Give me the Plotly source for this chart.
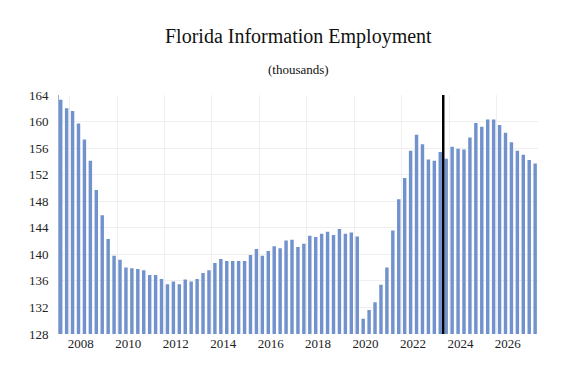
import plotly.graph_objects as go

# ---- data (quarterly, 2007Q3 .. 2027Q3) ----
start_year = 2007
start_quarter = 3
employment = [
    163.3, 162.0, 161.6, 159.7, 157.3, 154.1, 149.7, 145.9, 142.3, 139.8,
    139.2, 138.0, 137.9, 137.8, 137.6, 136.9, 136.9, 136.3, 135.5, 135.9,
    135.5, 136.2, 135.9, 136.3, 137.2, 137.6, 138.7, 139.3, 139.0, 139.0,
    139.0, 139.0, 139.9, 140.8, 139.8, 140.5, 141.2, 140.9, 142.1, 142.2,
    141.1, 141.6, 142.8, 142.6, 143.1, 143.4, 142.9, 143.8, 143.1, 143.3,
    142.7, 130.3, 131.6, 132.8, 135.4, 138.0, 143.6, 148.3, 151.5, 155.6,
    158.0, 156.6, 154.3, 154.1, 155.4, 154.4, 156.2, 155.9, 155.8, 157.6,
    159.8, 159.2, 160.3, 160.3, 159.5, 158.3, 156.9, 155.6, 155.0, 154.2,
    153.7,
]
forecast_start = (2023, 4)  # first forecast quarter
tick_years = [2008, 2010, 2012, 2014, 2016, 2018, 2020, 2022, 2024, 2026]
y_ticks = [128, 132, 136, 140, 144, 148, 152, 156, 160, 164]

# quarter positions as decimal years
x_pos = []
y, q = start_year, start_quarter
for _ in employment:
    x_pos.append(y + (q - 1) / 4)
    q += 1
    if q > 4:
        q = 1
        y += 1

fc_x = forecast_start[0] + (forecast_start[1] - 1) / 4
line_x = fc_x - 0.125

serif = "Liberation Serif, Times New Roman, serif"
bar_color = "#7192CC"

fig = go.Figure()
fig.add_trace(go.Bar(
    x=x_pos, y=employment, base=0,
    marker=dict(color=bar_color, line=dict(width=0)),
    hoverinfo="x+y",
))

fig.add_shape(type="line", xref="x", yref="paper",
              x0=line_x, x1=line_x, y0=0, y1=1,
              line=dict(color="black", width=2.5))

fig.update_layout(
    width=579, height=380, autosize=False,
    margin=dict(l=59, r=41, t=95, b=46),
    paper_bgcolor="white", plot_bgcolor="white",
    bargap=0.42, showlegend=False,
    font=dict(family=serif, size=13, color="#222222"),
    annotations=[
        dict(text="Florida Information Employment", xref="paper", yref="paper",
             x=0.5, y=1.243, xanchor="center", yanchor="middle", showarrow=False,
             font=dict(family=serif, size=20, color="#111111")),
        dict(text="(thousands)", xref="paper", yref="paper",
             x=0.5, y=1.105, xanchor="center", yanchor="middle", showarrow=False,
             font=dict(family=serif, size=13, color="#111111")),
    ],
)

fig.update_xaxes(
    range=[x_pos[0] - 0.072, x_pos[-1] + 0.12],
    tickmode="array",
    tickvals=[yr + 0.35 for yr in tick_years],
    ticktext=[str(yr) for yr in tick_years],
    showgrid=False, zeroline=False, showline=False,
    ticks="", tickfont=dict(family=serif, size=13, color="#222222"),
    minor=dict(tickmode="array", tickvals=[yr - 0.125 for yr in tick_years],
               showgrid=True, gridcolor="#EFEFEF", gridwidth=1, ticks=""),
)
fig.update_yaxes(
    range=[128, 164],
    tickmode="array", tickvals=y_ticks, ticktext=[str(v) for v in y_ticks],
    showgrid=True, gridcolor="#EFEFEF", gridwidth=1,
    zeroline=False, showline=True, linecolor="#9DB0D6", linewidth=1,
    ticks="", ticklabelstandoff=7,
    tickfont=dict(family=serif, size=13, color="#222222"),
)

fig.write_html(
    "out.html",
    config={"displayModeBar": False},
    post_script="document.body.style.margin='0';document.body.style.padding='0';",
)
